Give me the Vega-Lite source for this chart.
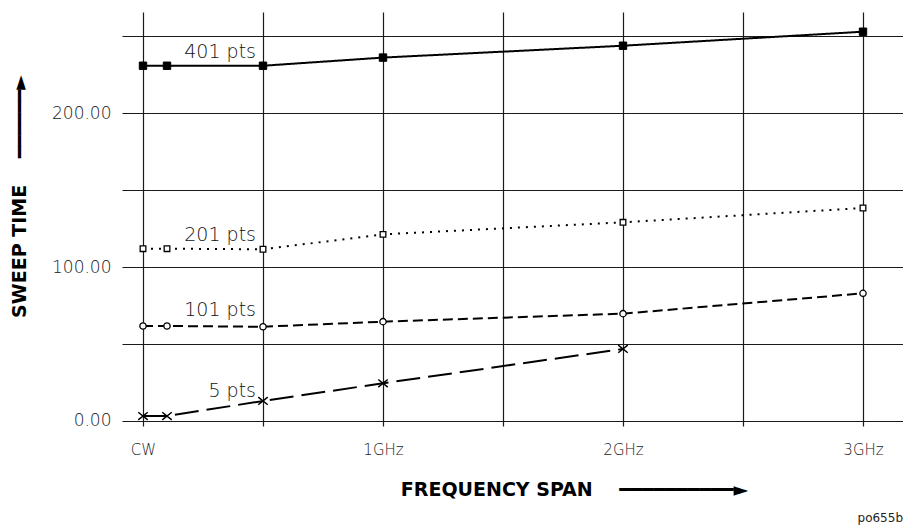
{
  "$schema": "https://vega.github.io/schema/vega-lite/v6.json",
  "width": 781,
  "height": 414,
  "autosize": {"type": "none"},
  "padding": {"left": 122, "top": 12, "right": 0, "bottom": 99},
  "background": "white",
  "title": {"text": "po655b", "orient": "bottom", "anchor": "end", "frame": "group", "fontSize": 12, "font": "DejaVu Sans", "fontWeight": "normal", "color": "#222", "offset": 14},
  "config": {"view": {"stroke": null}},
  "datasets": {
    "curves": [
      {"series": "401 pts", "x": 0, "y": 230.7},
      {"series": "401 pts", "x": 0.1, "y": 230.7},
      {"series": "401 pts", "x": 0.5, "y": 230.7},
      {"series": "401 pts", "x": 1, "y": 236},
      {"series": "401 pts", "x": 2, "y": 243.7},
      {"series": "401 pts", "x": 3, "y": 252.8},
      {"series": "201 pts", "x": 0, "y": 111.9},
      {"series": "201 pts", "x": 0.1, "y": 111.9},
      {"series": "201 pts", "x": 0.5, "y": 111.5},
      {"series": "201 pts", "x": 1, "y": 121.2},
      {"series": "201 pts", "x": 2, "y": 129},
      {"series": "201 pts", "x": 3, "y": 138.3},
      {"series": "101 pts", "x": 0, "y": 61.7},
      {"series": "101 pts", "x": 0.1, "y": 61.7},
      {"series": "101 pts", "x": 0.5, "y": 61.2},
      {"series": "101 pts", "x": 1, "y": 64.5},
      {"series": "101 pts", "x": 2, "y": 69.7},
      {"series": "101 pts", "x": 3, "y": 82.9},
      {"series": "5 pts", "x": 0, "y": 3.2},
      {"series": "5 pts", "x": 0.1, "y": 3.2},
      {"series": "5 pts", "x": 0.5, "y": 13},
      {"series": "5 pts", "x": 1, "y": 24.5},
      {"series": "5 pts", "x": 2, "y": 46.8}
    ],
    "labels": [
      {"label": "401 pts", "x": 0.5, "y": 239.6},
      {"label": "201 pts", "x": 0.5, "y": 120.5},
      {"label": "101 pts", "x": 0.5, "y": 72},
      {"label": "5 pts", "x": 0.5, "y": 19.2}
    ]
  },
  "encoding": {
    "x": {
      "field": "x", "type": "quantitative",
      "scale": {"domain": [-0.0875, 3.1667], "nice": false, "zero": false},
      "axis": {
        "values": [0, 0.5, 1, 1.5, 2, 2.5, 3],
        "labelExpr": "datum.value == 0 ? 'CW' : (datum.value % 1 == 0 ? datum.value + 'GHz' : '')",
        "grid": true, "gridColor": "#1a1a1a", "gridWidth": 1.2, "gridOpacity": 1,
        "domain": false, "ticks": false,
        "labelFont": "DejaVu Sans", "labelFontWeight": 200, "labelFontSize": 15, "labelColor": "#222",
        "labelPadding": 16, "labelFlush": false, "labelOverlap": false,
        "title": "FREQUENCY SPAN\u00a0\u00a0\u00a0\u00a0━━━━━━━━━━►",
        "titleFont": "DejaVu Sans", "titleFontWeight": "bold", "titleFontSize": 19, "titleColor": "#000",
        "titleX": 452, "titleY": 63, "titleAlign": "center", "titleBaseline": "middle", "titleAnchor": null
      }
    },
    "y": {
      "field": "y", "type": "quantitative",
      "scale": {"domain": [-3.25, 265.6], "nice": false, "zero": false},
      "axis": {
        "values": [0, 50, 100, 150, 200, 250],
        "labelExpr": "datum.value % 100 == 0 ? format(datum.value, '.2f') : ''",
        "grid": true, "gridColor": "#1a1a1a", "gridWidth": 1.2, "gridOpacity": 1,
        "domain": false, "ticks": false,
        "labelFont": "DejaVu Sans", "labelFontWeight": 200, "labelFontSize": 17, "labelColor": "#222",
        "labelPadding": 11, "labelOverlap": false,
        "title": "SWEEP TIME\u00a0\u00a0\u00a0\u00a0━━━━━━►",
        "titleFont": "DejaVu Sans", "titleFontWeight": "bold", "titleFontSize": 19, "titleColor": "#000",
        "titleX": -103, "titleY": 184, "titleAlign": "center", "titleBaseline": "middle", "titleAngle": -90
      }
    }
  },
  "layer": [
    {
      "data": {"name": "curves"},
      "mark": {"type": "line", "color": "black", "strokeWidth": 2},
      "encoding": {
        "detail": {"field": "series"},
        "order": {"field": "x", "type": "quantitative"},
        "strokeDash": {
          "field": "series", "type": "nominal",
          "scale": {"domain": ["401 pts", "201 pts", "101 pts", "5 pts"], "range": [[1, 0], [2, 6], [10, 5], [24, 8]]},
          "legend": null
        }
      }
    },
    {
      "data": {"name": "curves"},
      "transform": [{"filter": "datum.series == '401 pts'"}],
      "mark": {"type": "point", "shape": "square", "fill": "black", "stroke": "black", "strokeWidth": 1, "size": 55, "opacity": 1}
    },
    {
      "data": {"name": "curves"},
      "transform": [{"filter": "datum.series == '201 pts'"}],
      "mark": {"type": "point", "shape": "square", "fill": "white", "stroke": "black", "strokeWidth": 1.3, "size": 32, "opacity": 1}
    },
    {
      "data": {"name": "curves"},
      "transform": [{"filter": "datum.series == '101 pts'"}],
      "mark": {"type": "point", "shape": "circle", "fill": "white", "stroke": "black", "strokeWidth": 1.3, "size": 40, "opacity": 1}
    },
    {
      "data": {"name": "curves"},
      "transform": [{"filter": "datum.series == '5 pts'"}],
      "mark": {"type": "point", "shape": "M-1,-0.8L1,0.8M-1,0.8L1,-0.8", "fill": "none", "stroke": "black", "strokeWidth": 1.5, "size": 90, "opacity": 1}
    },
    {
      "data": {"name": "labels"},
      "mark": {"type": "text", "align": "right", "baseline": "middle", "dx": -7, "font": "DejaVu Sans", "fontWeight": 200, "fontSize": 19, "color": "#111"},
      "encoding": {
        "text": {"field": "label"}
      }
    }
  ]
}
